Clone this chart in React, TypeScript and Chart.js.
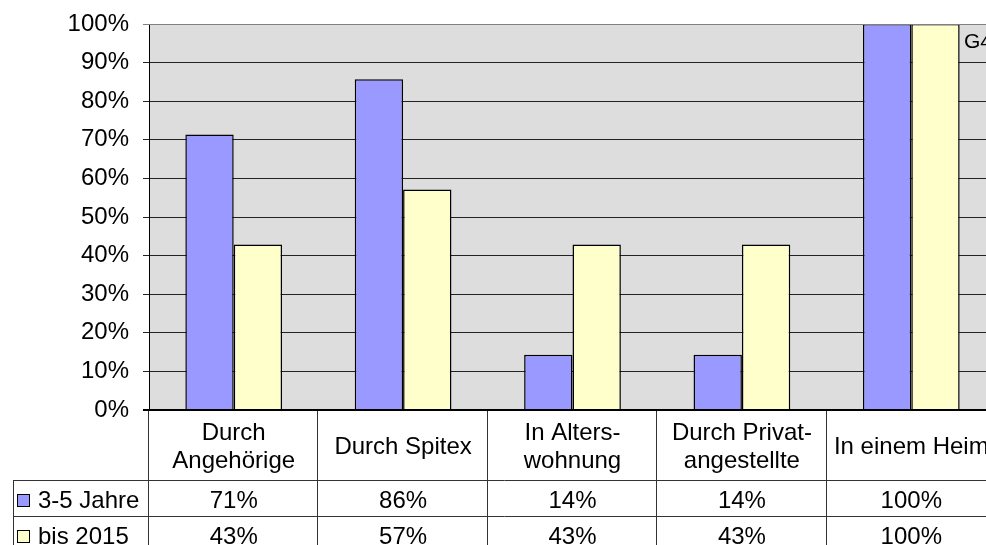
import { useEffect, useRef } from "react";
import { Chart, registerables } from "chart.js";

Chart.register(...registerables);

// ---- data ----
const categories: string[][] = [
  ["Durch", "Angehörige"],
  ["Durch Spitex"],
  ["In Alters-", "wohnung"],
  ["Durch Privat-", "angestellte"],
  ["In einem Heim"],
];
const seriesNames = ["3-5 Jahre", "bis 2015"];
const values3bis5Jahre = [71.4, 85.7, 14.3, 14.3, 100];
const valuesBis2015 = [42.9, 57.1, 42.9, 42.9, 100];
const seriesColors = ["#9999FF", "#FFFFCC"];
const yMax = 100;
const yStep = 10;
const cornerNote = "G4";

const FONT = "'Liberation Sans', Arial, Helvetica, sans-serif";

const tablePlugin = {
  id: "excelTable",
  beforeDraw(chart: any) {
    const { ctx, chartArea: ca } = chart;
    ctx.save();
    ctx.fillStyle = "#DDDDDD";
    ctx.fillRect(ca.left, ca.top, ca.right - ca.left, ca.bottom - ca.top);
    ctx.restore();
  },
  afterDraw(chart: any) {
    const { ctx, chartArea: ca } = chart;
    const x = chart.scales.x;
    const centers = categories.map((_, i) => x.getPixelForValue(i));
    const half = (centers[1] - centers[0]) / 2;
    const bounds = [ca.left, ...centers.map((c: number) => c + half)];
    const allSeries = [values3bis5Jahre, valuesBis2015];

    ctx.save();
    // plot border
    ctx.strokeStyle = "#808080";
    ctx.lineWidth = 1;
    ctx.beginPath();
    ctx.moveTo(ca.left, ca.top + 0.5);
    ctx.lineTo(ca.right, ca.top + 0.5);
    ctx.moveTo(ca.right - 0.5, ca.top);
    ctx.lineTo(ca.right - 0.5, ca.bottom);
    ctx.stroke();

    // table geometry
    const headerBottom = ca.bottom + 70;
    const rowH = 36;
    const tableBottom = headerBottom + rowH * allSeries.length;
    const keyLeft = 13;

    ctx.strokeStyle = "#333";
    ctx.lineWidth = 1;
    ctx.beginPath();
    for (let r = 0; r <= allSeries.length; r++) {
      const yy = Math.round(headerBottom + r * rowH) + 0.5;
      ctx.moveTo(keyLeft, yy);
      ctx.lineTo(ca.right, yy);
    }
    bounds.forEach((b: number) => {
      const xx = Math.round(b) - 0.5;
      ctx.moveTo(xx, ca.bottom);
      ctx.lineTo(xx, tableBottom);
    });
    ctx.moveTo(keyLeft + 0.5, headerBottom);
    ctx.lineTo(keyLeft + 0.5, tableBottom);
    ctx.stroke();

    // x axis line
    ctx.strokeStyle = "#000";
    ctx.lineWidth = 2;
    ctx.beginPath();
    ctx.moveTo(ca.left - 6, ca.bottom);
    ctx.lineTo(ca.right, ca.bottom);
    ctx.stroke();

    // header labels
    ctx.fillStyle = "#000";
    ctx.font = `24px ${FONT}`;
    ctx.textAlign = "center";
    ctx.textBaseline = "middle";
    const headerMid = ca.bottom + 37;
    categories.forEach((lines, i) => {
      lines.forEach((l, j) => {
        ctx.fillText(l, centers[i], headerMid + (j - (lines.length - 1) / 2) * 28);
      });
    });

    // rows
    allSeries.forEach((vals, r) => {
      const mid = headerBottom + r * rowH + rowH / 2 + 2;
      ctx.textAlign = "center";
      ctx.fillStyle = "#000";
      vals.forEach((v, i) => {
        ctx.fillText(Math.round(v) + "%", centers[i], mid + 1);
      });
      // legend key
      ctx.fillStyle = seriesColors[r];
      ctx.fillRect(keyLeft + 4, mid - 6, 13, 13);
      ctx.strokeStyle = "#000";
      ctx.lineWidth = 1;
      ctx.strokeRect(keyLeft + 4.5, mid - 5.5, 12, 12);
      ctx.fillStyle = "#000";
      ctx.textAlign = "left";
      ctx.fillText(seriesNames[r], keyLeft + 25, mid + 1);
    });

    // corner note
    ctx.font = `21px ${FONT}`;
    ctx.textAlign = "left";
    ctx.fillText(cornerNote, 964, 42);
    ctx.restore();
  },
};

export default function App() {
  const ref = useRef<HTMLCanvasElement | null>(null);
  useEffect(() => {
    if (!ref.current) return;
    const chart = new Chart(ref.current, {
      type: "bar",
      data: {
        labels: categories.map((c) => c.join(" ")),
        datasets: [
          {
            label: seriesNames[0],
            data: values3bis5Jahre,
            backgroundColor: seriesColors[0],
            borderColor: "#000",
            borderWidth: 1.5,
            categoryPercentage: 0.571,
            barPercentage: 1,
          },
          {
            label: seriesNames[1],
            data: valuesBis2015,
            backgroundColor: seriesColors[1],
            borderColor: "#000",
            borderWidth: 1.5,
            categoryPercentage: 0.571,
            barPercentage: 1,
          },
        ],
      },
      options: {
        responsive: false,
        animation: false,
        layout: { padding: { top: 24, right: 10, left: 0, bottom: 0 } },
        plugins: { legend: { display: false }, tooltip: { enabled: false } },
        scales: {
          x: {
            ticks: { display: false },
            grid: { display: false },
            border: { display: false },
            afterFit: (s: any) => {
              s.height = 135;
              s.paddingLeft = 0;
              s.paddingRight = 0;
            },
          },
          y: {
            min: 0,
            max: yMax,
            ticks: {
              stepSize: yStep,
              callback: (v: any) => v + "%",
              font: { family: FONT, size: 24 },
              color: "#000",
              padding: 14,
            },
            grid: {
              color: (c: any) => (c.tick && c.tick.value === yMax ? "#808080" : "#222"),
              tickLength: 6,
              lineWidth: 1,
            },
            border: { display: true, color: "#000", width: 1 },
            afterFit: (s: any) => {
              s.width = 149;
              s.paddingTop = 0;
              s.paddingBottom = 0;
            },
          },
        },
      },
      plugins: [tablePlugin],
    });
    return () => chart.destroy();
  }, []);
  return (
    <div
      style={{
        position: "fixed",
        left: 0,
        top: 0,
        width: 986,
        height: 545,
        overflow: "hidden",
        background: "#fff",
      }}
    >
      <canvas ref={ref} width={1006} height={545} style={{ display: "block" }} />
    </div>
  );
}
